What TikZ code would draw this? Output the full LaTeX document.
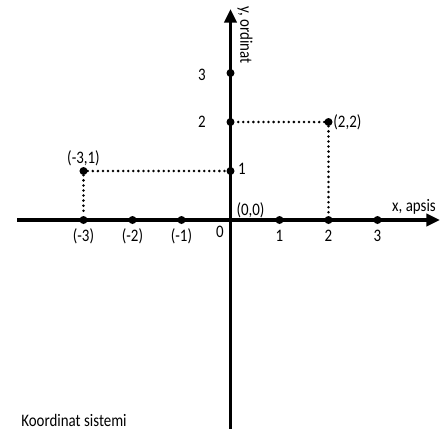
\documentclass[tikz,border=0pt]{standalone}
\usepackage{fontspec}
\setmainfont[FakeStretch=0.85]{Carlito}
\usetikzlibrary{arrows.meta}

\begin{document}
\begin{tikzpicture}[x=1.225cm, y=1.225cm, >={Triangle[length=0.34cm, width=0.3cm]},
  font=\fontsize{12.5}{14}\selectfont,
  axis/.style={line width=2.8pt},
  guide/.style={line width=2pt, line cap=round, dash pattern=on 0pt off 3.6pt},
  dot/.style={circle, fill, inner sep=0pt, minimum size=0.2cm}]
\useasboundingbox (-4.704,-4.265) rectangle (4.357,4.490);


\draw[axis, ->] (-4.357,0) -- (4.276,0);
\draw[axis, ->] (0,-4.4) -- (0,4.306);
\node[anchor=south] (xlab) at (3.745,0.02) {x, apsis};
\node[rotate=-90] (ylab) at (0.296,3.776) {y, ordinat};


\coordinate (O) at (0,0);
\foreach \x/\lab in {-3/{(-3)}, -2/{(-2)}, -1/{(-1)}, 1/1, 2/2, 3/3} {
  \node[dot] (x\x) at (\x,0) {};
  \node[yshift=-0.4cm] at (x\x) {\lab};
}
\foreach \y in {1,2,3}
  \node[dot] (y\y) at (0,\y) {};
\node at (-0.582,2.959) {3};
\node at (-0.582,2.0) {2};
\node at (0.235,1.04) {1};
\node at (-0.214,-0.245) {0};
\node at (0.408,0.204) {(0,0)};


\node[dot] (P) at (-3,1) {};
\node[dot] (Q) at (2,2) {};
\node[above=0pt] at (P) {(-3,1)};
\node[right=0pt] at (Q) {(2,2)};
\draw[guide] (P) -- (y1);
\draw[guide] (P) -- (x-3);
\draw[guide] (Q) -- (y2);
\draw[guide] (Q) -- (x2);


\node (title) at (-3.194,-4.082) {Koordinat sistemi};

\end{tikzpicture}
\end{document}
